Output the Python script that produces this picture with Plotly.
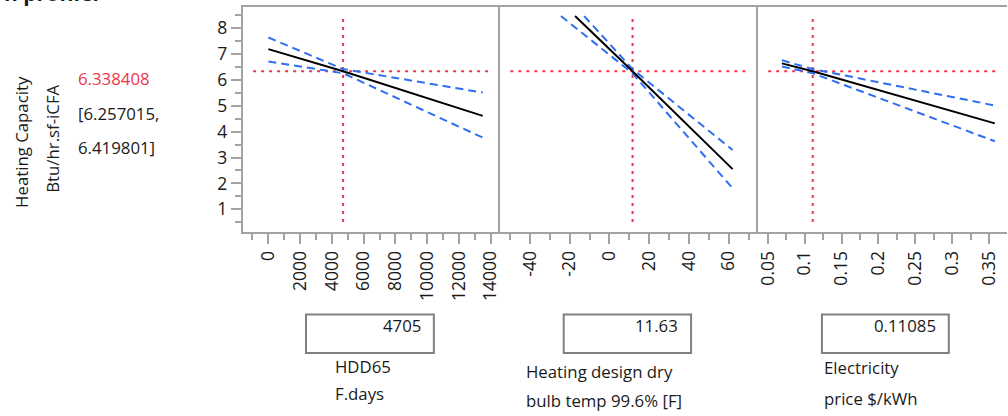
import plotly.graph_objects as go

# ---------------- data ----------------
response_title = "Heating Capacity"
response_units = "Btu/hr.sf-iCFA"
pred_value = 6.338408
pred_ci_text = ["[6.257015,", "6.419801]"]
title_text = "n profiler"

factor_line1 = ["HDD65", "Heating design dry", "Electricity"]
factor_line2 = ["F.days", "bulb temp 99.6% [F]", "price $/kWh"]
current_values = [4705, 11.63, 0.11085]
current_text = ["4705", "11.63", "0.11085"]

# HDD65
hdd_x = [0, 4705, 13500]
hdd_pred = [7.19, 6.338, 4.61]
hdd_upper = [7.64, 6.42, 5.51]
hdd_lower = [6.71, 6.257, 3.77]

# Heating design dry bulb temp
temp_pred_x = [-17.3, 11.63, 62]
temp_pred = [8.47, 6.338, 2.55]
temp_upper_x = [-12.7, 11.63, 62]
temp_upper = [8.47, 6.42, 3.29]
temp_lower_x = [-24.4, 11.63, 62]
temp_lower = [8.47, 6.257, 1.81]

# Electricity price
elec_x = [0.069, 0.11085, 0.358]
elec_pred = [6.64, 6.338, 4.32]
elec_upper = [6.76, 6.42, 5.01]
elec_lower = [6.52, 6.257, 3.63]

# axes
y_ticks = [1, 2, 3, 4, 5, 6, 7, 8]
hdd_ticks = [0, 2000, 4000, 6000, 8000, 10000, 12000, 14000]
temp_ticks = [-40, -20, 0, 20, 40, 60]
temp_tick_text = ["-40", "-20", "0", "20", "40", "60"]
elec_ticks = [0.05, 0.1, 0.15, 0.2, 0.25, 0.3, 0.35]
elec_tick_text = ["0.05", "0.1", "0.15", "0.2", "0.25", "0.3", "0.35"]

# ---------------- style ----------------
W, H = 1008, 416
FONT = "Open Sans"
FS = 16.8
TFS = 17.5
GRAY = "#a3a3a3"
RED = "#f0364a"
BLUE = "#2e6ff2"
BLACK = "#000000"
TXT = "#1a1a1a"

def px(xp):
    return xp / W

def py(yp):
    return 1 - yp / H

dom_top, dom_bot = py(7), py(232)
x_domains = [[px(240), px(498.5)], [px(498.5), px(758)], [px(758), 1.0]]
x_ranges = [[-1610, 14590], [-55.05, 74.9], [0.0369, 0.3745]]

fig = go.Figure()

panels = [
    (hdd_x, hdd_pred, hdd_x, hdd_upper, hdd_x, hdd_lower),
    (temp_pred_x, temp_pred, temp_upper_x, temp_upper, temp_lower_x, temp_lower),
    (elec_x, elec_pred, elec_x, elec_upper, elec_x, elec_lower),
]

for i, (px_, pv, ux, uv, lx, lv) in enumerate(panels):
    xa = "x" if i == 0 else f"x{i+1}"
    ya = "y" if i == 0 else f"y{i+1}"
    fig.add_trace(go.Scatter(x=ux, y=uv, mode="lines", xaxis=xa, yaxis=ya,
                             line=dict(color=BLUE, width=2, dash="8px,5px"),
                             showlegend=False, hoverinfo="skip"))
    fig.add_trace(go.Scatter(x=lx, y=lv, mode="lines", xaxis=xa, yaxis=ya,
                             line=dict(color=BLUE, width=2, dash="8px,5px"),
                             showlegend=False, hoverinfo="skip"))
    fig.add_trace(go.Scatter(x=px_, y=pv, mode="lines", xaxis=xa, yaxis=ya,
                             line=dict(color=BLACK, width=2),
                             showlegend=False, hoverinfo="skip"))
    # reference lines (current setting & predicted value)
    fig.add_shape(type="line", xref=xa, yref=f"{ya} domain",
                  x0=current_values[i], x1=current_values[i], y0=0.044, y1=0.956,
                  line=dict(color=RED, width=2, dash="3px,5px"), layer="below")
    fig.add_shape(type="line", xref=f"{xa} domain", yref=ya,
                  x0=0.04, x1=0.96, y0=pred_value, y1=pred_value,
                  line=dict(color=RED, width=2, dash="3px,5px"), layer="below")

tick_font = dict(family=FONT, size=TFS, color=TXT)

x_tick_sets = [
    (hdd_ticks, [str(v) for v in hdd_ticks], 1000),
    (temp_ticks, temp_tick_text, 10),
    (elec_ticks, elec_tick_text, 0.025),
]

layout = dict(
    width=W, height=H,
    margin=dict(l=0, r=0, t=0, b=0),
    paper_bgcolor="white", plot_bgcolor="white",
    font=dict(family=FONT, size=FS, color=TXT),
    showlegend=False,
)

for i in range(3):
    key = "xaxis" if i == 0 else f"xaxis{i+1}"
    tv, tt, mdt = x_tick_sets[i]
    layout[key] = dict(
        domain=x_domains[i], range=x_ranges[i], anchor="y" if i == 0 else f"y{i+1}",
        showgrid=False, zeroline=False,
        showline=True, linecolor=GRAY, linewidth=2, mirror=True,
        ticks="outside", ticklen=10, tickwidth=2, tickcolor=GRAY,
        tickvals=tv, ticktext=tt, tickangle=-90, tickfont=tick_font,
        minor=dict(ticks="outside", ticklen=6, tickwidth=2, tickcolor=GRAY,
                   dtick=mdt, tick0=0, showgrid=False),
    )
    ykey = "yaxis" if i == 0 else f"yaxis{i+1}"
    ydict = dict(
        domain=[dom_bot, dom_top], range=[0.12, 8.82],
        anchor="x" if i == 0 else f"x{i+1}",
        showgrid=False, zeroline=False,
        showline=True, linecolor=GRAY, linewidth=2, mirror=False,
    )
    if i == 0:
        ydict.update(
            ticks="outside", ticklen=10, tickwidth=2, tickcolor=GRAY,
            tickvals=y_ticks, tickfont=tick_font,
            minor=dict(ticks="outside", ticklen=6, tickwidth=2, tickcolor=GRAY,
                       dtick=0.5, tick0=0, showgrid=False),
        )
    else:
        ydict.update(matches="y", showticklabels=False, ticks="")
    layout[ykey] = ydict

fig.update_layout(**layout)

ann = []
# title (cut off at top)
ann.append(dict(text=f"<b>{title_text}</b>", x=px(-2), y=py(-7), xref="paper", yref="paper",
                xanchor="left", yanchor="middle", showarrow=False,
                font=dict(family=FONT, size=21, color=TXT)))
# response labels
ann.append(dict(text=response_title, x=px(17), y=py(142), xref="paper", yref="paper",
                textangle=-90, showarrow=False, xanchor="center", yanchor="middle",
                font=dict(family=FONT, size=FS, color=TXT)))
ann.append(dict(text=response_units, x=px(48), y=py(139), xref="paper", yref="paper",
                textangle=-90, showarrow=False, xanchor="center", yanchor="middle",
                font=dict(family=FONT, size=FS, color=TXT)))
ann.append(dict(text=f"{pred_value:.6f}", x=px(72), y=py(78), xref="paper", yref="paper",
                showarrow=False, xanchor="left", yanchor="middle",
                font=dict(family=FONT, size=FS, color=RED)))
for t, yy in zip(pred_ci_text, [113, 147]):
    ann.append(dict(text=t, x=px(72), y=py(yy), xref="paper", yref="paper",
                    showarrow=False, xanchor="left", yanchor="middle",
                    font=dict(family=FONT, size=FS, color=TXT)))

# factor setting boxes and labels
box_x = [(303.5, 432), (562.5, 690.5), (822, 949.5)]
line1_pos = [(330.5, 366.5), (522.5, 371), (822.5, 367.5)]
line2_pos = [(330.5, 393), (522.5, 400), (822.5, 398.5)]
shapes = []
for i in range(3):
    x0, x1 = box_x[i]
    shapes.append(dict(type="rect", xref="paper", yref="paper",
                       x0=px(x0), x1=px(x1), y0=py(353), y1=py(314.5),
                       line=dict(color="#808080", width=2), fillcolor="rgba(0,0,0,0)"))
    ann.append(dict(text=current_text[i], x=px(x1 - 11), y=py(325), xref="paper", yref="paper",
                    showarrow=False, xanchor="right", yanchor="middle",
                    font=dict(family=FONT, size=FS, color=TXT)))
    ann.append(dict(text=factor_line1[i], x=px(line1_pos[i][0]), y=py(line1_pos[i][1]),
                    xref="paper", yref="paper", showarrow=False, xanchor="left", yanchor="middle",
                    font=dict(family=FONT, size=FS, color=TXT)))
    ann.append(dict(text=factor_line2[i], x=px(line2_pos[i][0]), y=py(line2_pos[i][1]),
                    xref="paper", yref="paper", showarrow=False, xanchor="left", yanchor="middle",
                    font=dict(family=FONT, size=FS, color=TXT)))

fig.update_layout(annotations=ann)
for s in shapes:
    fig.add_shape(**s)

fig.write_html(
    "out.html",
    config={"displayModeBar": False},
    post_script="document.body.style.margin='0';document.body.style.overflow='hidden';",
)
